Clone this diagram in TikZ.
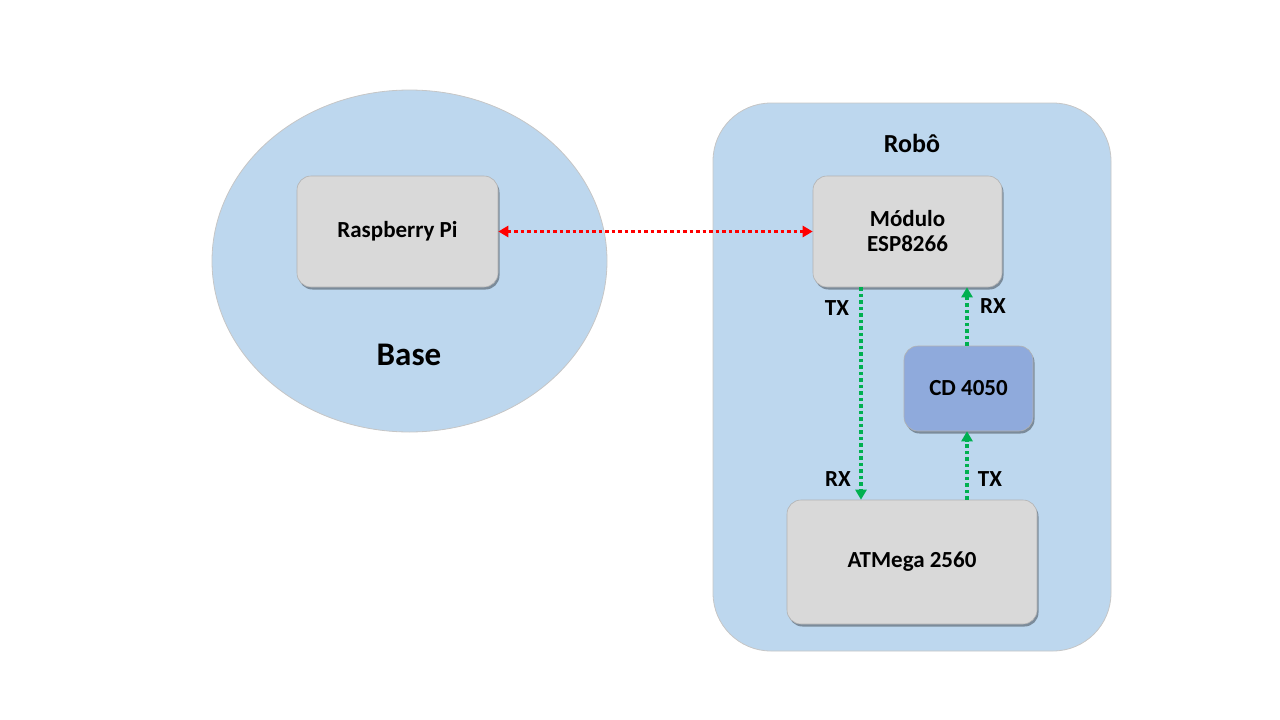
\documentclass[tikz,border=0pt]{standalone}
\usepackage{fontspec}
\setmainfont{Carlito}
\usetikzlibrary{arrows.meta,shadows,shapes.geometric}
\definecolor{lblue}{HTML}{BDD7EE}
\definecolor{boxgray}{HTML}{D9D9D9}
\definecolor{cdblue}{HTML}{8FAADC}
\definecolor{rred}{HTML}{FF0000}
\definecolor{ggreen}{HTML}{00B050}
\tikzset{
  comp/.style={draw=gray!60, line width=0.6pt, fill=boxgray, rounded corners=14pt,
    drop shadow={shadow xshift=1.5pt, shadow yshift=-2.5pt, opacity=0.35, fill=black},
    font=\fontsize{23}{25}\selectfont\bfseries, align=center, inner sep=0pt},
  lbl/.style={font=\fontsize{23}{25}\selectfont\bfseries, inner sep=0pt},
  redlink/.style={draw=rred, line width=3.5pt, dash pattern=on 3.5pt off 3pt,
    {Triangle[width=11pt,length=10pt]}-{Triangle[width=11pt,length=10pt]}},
  greenlink/.style={draw=ggreen, line width=3.5pt, dash pattern=on 3.5pt off 3pt,
    -{Triangle[width=11pt,length=10pt]}},
}
\begin{document}
\begin{tikzpicture}[x=1pt,y=-1pt]
\useasboundingbox (0,0) rectangle (1280,720);
% Base
\node[ellipse, draw=gray!45, line width=0.8pt, fill=lblue, minimum width=395pt, minimum height=342pt, inner sep=0pt] (base) at (409.5,261) {};
\node[font=\fontsize{33}{36}\selectfont\bfseries, inner sep=0pt] (basel) at (409,355) {Base};
% Robo
\draw[draw=gray!45, line width=0.8pt, fill=lblue, rounded corners=58pt] (713,103) rectangle (1111,651);
\node[font=\fontsize{26}{28}\selectfont\bfseries, inner sep=0pt] (robol) at (912,143) {Robô};
% components
\node[comp, minimum width=201pt, minimum height=111pt] (rpi) at (397.5,231.5) {Raspberry Pi};
\node[comp, minimum width=189pt, minimum height=111pt] (esp) at (907.5,231.5) {Módulo\\ESP8266};
\node[comp, fill=cdblue, minimum width=129pt, minimum height=85pt] (cd) at (968.5,388.5) {CD 4050};
\node[comp, minimum width=250pt, minimum height=124pt] (atm) at (912,562) {ATMega 2560};
% links
\coordinate (xa) at (861,0);
\coordinate (xb) at (967,0);
\draw[redlink] (rpi.east) -- (esp.west);
\draw[greenlink] (esp.south -| xa) -- (atm.north -| xa);
\draw[greenlink] (atm.north -| xb) -- (cd.south -| xb);
\draw[greenlink] (cd.north -| xb) -- (esp.south -| xb);
% labels
\node[lbl] (tx1) at (837,308) {TX};
\node[lbl] (rx1) at (993,306) {RX};
\node[lbl] (rx2) at (838,479) {RX};
\node[lbl] (tx2) at (990,479) {TX};
\end{tikzpicture}
\end{document}
